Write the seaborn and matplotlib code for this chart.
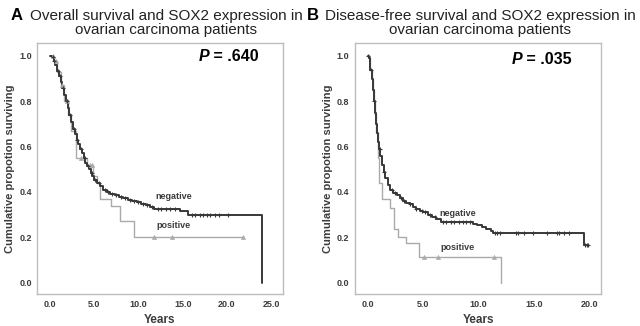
import numpy as np
import pandas as pd
import matplotlib
matplotlib.use("Agg")
import matplotlib.pyplot as plt
from matplotlib.transforms import offset_copy
import seaborn as sns

# ---------------- data ----------------
# Panel A: overall survival
a_neg_t = [0, 0.2, 0.4, 0.6, 0.8, 1.0, 1.2, 1.4, 1.6, 1.8, 2.0, 2.2, 2.4, 2.6, 2.8, 3.0,
           3.2, 3.4, 3.6, 3.8, 4.0, 4.2, 4.4, 4.6, 4.8, 5.0, 5.3, 5.6, 6.0, 6.4, 6.8,
           7.3, 7.8, 8.3, 8.8, 9.3, 9.8, 10.3, 10.8, 11.3, 11.8, 14.7, 15.6, 24.0, 24.0]
a_neg_s = [1.0, 0.995, 0.98, 0.96, 0.935, 0.91, 0.885, 0.86, 0.83, 0.80, 0.77, 0.74,
           0.71, 0.68, 0.655, 0.63, 0.61, 0.59, 0.57, 0.55, 0.53, 0.515, 0.50, 0.485,
           0.47, 0.455, 0.44, 0.425, 0.41, 0.40, 0.39, 0.385, 0.38, 0.372, 0.366, 0.36,
           0.354, 0.348, 0.342, 0.335, 0.327, 0.318, 0.298, 0.298, 0.0]
a_neg_cens = [0.3, 0.5, 0.9, 1.1, 1.5, 1.9, 2.3, 2.7, 3.1, 3.5, 3.9, 4.3, 4.7, 5.1, 5.5,
              6.2, 6.6, 7.0, 7.5, 8.0, 8.5, 9.0, 9.5, 10.0, 10.5, 11.0, 11.5, 12.2,
              12.6, 13.1, 13.6, 14.1, 16.0, 16.4, 16.9, 17.3, 17.7, 18.1, 18.6, 19.1, 20.1]
a_pos_t = [0, 0.4, 0.8, 1.2, 1.6, 2.0, 2.4, 2.9, 4.2, 4.9, 5.3, 5.65, 6.9, 7.9, 9.5, 21.8]
a_pos_s = [1.0, 0.98, 0.93, 0.87, 0.80, 0.74, 0.67, 0.55, 0.52, 0.47, 0.44, 0.367,
           0.34, 0.27, 0.2, 0.2]
a_pos_cens = [0.3, 0.7, 1.3, 1.9, 3.5, 4.5, 4.7, 11.7, 13.75, 21.8]

# Panel B: disease-free survival
b_neg_t = [0, 0.15, 0.25, 0.35, 0.45, 0.55, 0.65, 0.75, 0.85, 0.95, 1.05, 1.15, 1.3,
           1.45, 1.6, 1.8, 2.0, 2.3, 2.6, 2.9, 3.2, 3.5, 3.8, 4.1, 4.4, 4.7, 5.0, 5.4,
           5.8, 6.2, 6.6, 9.5, 9.9, 10.3, 10.7, 11.1, 11.3, 19.5, 19.9]
b_neg_s = [1.0, 0.99, 0.94, 0.90, 0.85, 0.80, 0.75, 0.70, 0.66, 0.62, 0.59, 0.56, 0.52,
           0.49, 0.46, 0.43, 0.41, 0.395, 0.385, 0.375, 0.36, 0.35, 0.345, 0.335, 0.325,
           0.315, 0.31, 0.30, 0.29, 0.28, 0.268, 0.26, 0.255, 0.245, 0.235, 0.228, 0.22,
           0.165, 0.165]
b_neg_cens = [0.05, 0.27, 0.6, 1.1, 1.5, 2.2, 2.5, 3.0, 3.3, 3.8, 4.4, 4.9, 5.2, 5.6,
              6.1, 6.8, 7.1, 7.5, 7.8, 8.2, 8.6, 8.9, 9.2, 11.5, 11.7, 11.9, 13.4, 13.6,
              14.1, 14.9, 16.2, 17.1, 17.3, 17.7, 18.2, 19.6, 19.75, 19.9]
b_pos_t = [0, 0.15, 0.25, 0.35, 0.45, 0.55, 0.65, 0.75, 0.9, 1.0, 1.27, 1.98, 2.4, 2.7,
           3.5, 4.6, 12.0, 12.0]
b_pos_s = [1.0, 0.99, 0.94, 0.90, 0.85, 0.80, 0.74, 0.66, 0.55, 0.44, 0.367, 0.33, 0.235,
           0.2, 0.176, 0.115, 0.115, 0.0]
b_pos_cens = [5.05, 6.3, 11.4]

titles = ["Overall survival and SOX2 expression in\novarian carcinoma patients",
          "Disease-free survival and SOX2 expression in\novarian carcinoma patients"]
letters = ["A", "B"]
p_values = [" = .640", " = .035"]
x_ticks = [[0, 5, 10, 15, 20, 25], [0, 5, 10, 15, 20]]
y_ticks = [0.0, 0.2, 0.4, 0.6, 0.8, 1.0]
group_labels = ["negative", "positive"]

# ---------------- style ----------------
sns.set_style("white")
plt.rcParams["font.family"] = ["Liberation Sans", "DejaVu Sans"]

NEG_C = "#383838"
POS_C = "#aaaaaa"
TXT_C = "#3c3c3c"
FRAME_C = "#bdbdbd"

fig = plt.figure(figsize=(6.4, 3.26), dpi=100)
axA = fig.add_axes([0.0583, 0.0982, 0.3834, 0.769])
axB = fig.add_axes([0.5547, 0.0982, 0.3844, 0.769])


def step_value(times, surv, t):
    times = np.asarray(times)
    idx = np.searchsorted(times, t, side="right") - 1
    return np.asarray(surv)[idx]


def draw_panel(ax, neg_t, neg_s, neg_c, pos_t, pos_s, pos_c, xlim, xt,
               neg_lab, pos_lab, ppos, pval):
    sns.lineplot(x=pos_t, y=pos_s, ax=ax, color=POS_C, lw=1.0, estimator=None,
                 sort=False, drawstyle="steps-post", legend=False)
    sns.lineplot(x=neg_t, y=neg_s, ax=ax, color=NEG_C, lw=1.4, estimator=None,
                 sort=False, drawstyle="steps-post", legend=False)
    # censor marks (y read from the step function)
    nt = np.asarray(neg_t)[:-1] if neg_s[-1] == 0.0 else np.asarray(neg_t)
    ns = np.asarray(neg_s)[:-1] if neg_s[-1] == 0.0 else np.asarray(neg_s)
    pt = np.asarray(pos_t)[:-1] if pos_s[-1] == 0.0 else np.asarray(pos_t)
    ps = np.asarray(pos_s)[:-1] if pos_s[-1] == 0.0 else np.asarray(pos_s)
    sns.scatterplot(x=pos_c, y=[step_value(pt, ps, t) for t in pos_c], ax=ax,
                    marker="^", s=10, color=POS_C, edgecolor=POS_C, linewidth=0.3,
                    legend=False, zorder=3)
    sns.scatterplot(x=neg_c, y=[step_value(nt, ns, t) for t in neg_c], ax=ax,
                    marker="+", s=12, color=NEG_C, linewidth=0.8, legend=False,
                    zorder=4)
    ax.set_xlim(*xlim)
    ax.set_ylim(-0.050, 1.056)
    ax.set_xticks(xt)
    ax.set_xticklabels([f"{v:.1f}" for v in xt])
    ax.set_yticks(y_ticks)
    ax.set_yticklabels([f"{v:.1f}" for v in y_ticks])
    ax.tick_params(axis="both", direction="out", length=2.5, width=0.8,
                   color="#777777", labelsize=6.5, labelcolor=TXT_C, pad=1.5)
    for lab in ax.get_xticklabels() + ax.get_yticklabels():
        lab.set_fontweight("bold")
    for sp in ax.spines.values():
        sp.set_color(FRAME_C)
        sp.set_linewidth(1.0)
    ax.set_xlabel("Years", fontsize=8.5, fontweight="bold", color=TXT_C, labelpad=4)
    ax.set_ylabel("Cumulative propotion surviving", fontsize=8, fontweight="bold",
                  color=TXT_C, labelpad=3)
    ax.text(neg_lab[0], neg_lab[1], group_labels[0], fontsize=6.5, fontweight="bold",
            color=TXT_C, va="center", ha="left")
    ax.text(pos_lab[0], pos_lab[1], group_labels[1], fontsize=6.5, fontweight="bold",
            color=TXT_C, va="center", ha="left")
    ptext = ax.text(ppos[0], ppos[1], "P", transform=ax.transAxes, fontsize=11.5,
                    fontweight="bold", fontstyle="italic", color="black",
                    va="center", ha="left")
    fig.canvas.draw()
    w = ptext.get_window_extent().width * 72.0 / fig.dpi
    ax.text(ppos[0], ppos[1], pval,
            transform=offset_copy(ax.transAxes, fig=fig, x=w, y=0, units="points"),
            fontsize=11.5, fontweight="bold", color="black", va="center", ha="left")


draw_panel(axA, a_neg_t, a_neg_s, a_neg_cens, a_pos_t, a_pos_s, a_pos_cens,
           (-1.435, 26.3), x_ticks[0], (11.9, 0.38), (12.0, 0.25),
           (0.656, 0.949), p_values[0])
draw_panel(axB, b_neg_t, b_neg_s, b_neg_cens, b_pos_t, b_pos_s, b_pos_cens,
           (-1.146, 21.06), x_ticks[1], (6.5, 0.305), (6.6, 0.157),
           (0.637, 0.936), p_values[1])

# titles
fig.text(11 / 640, 1 - 16 / 326, letters[0], fontsize=12, fontweight="bold",
         color="black", ha="left", va="center")
fig.text(166 / 640, 1 - 23 / 326, titles[0], fontsize=11, color="#222222",
         ha="center", va="center", linespacing=1.0)
fig.text(307 / 640, 1 - 16 / 326, letters[1], fontsize=12, fontweight="bold",
         color="black", ha="left", va="center")
fig.text(480 / 640, 1 - 23 / 326, titles[1], fontsize=11, color="#222222",
         ha="center", va="center", linespacing=1.0)

fig.savefig("out.png", dpi=100, facecolor="white")
